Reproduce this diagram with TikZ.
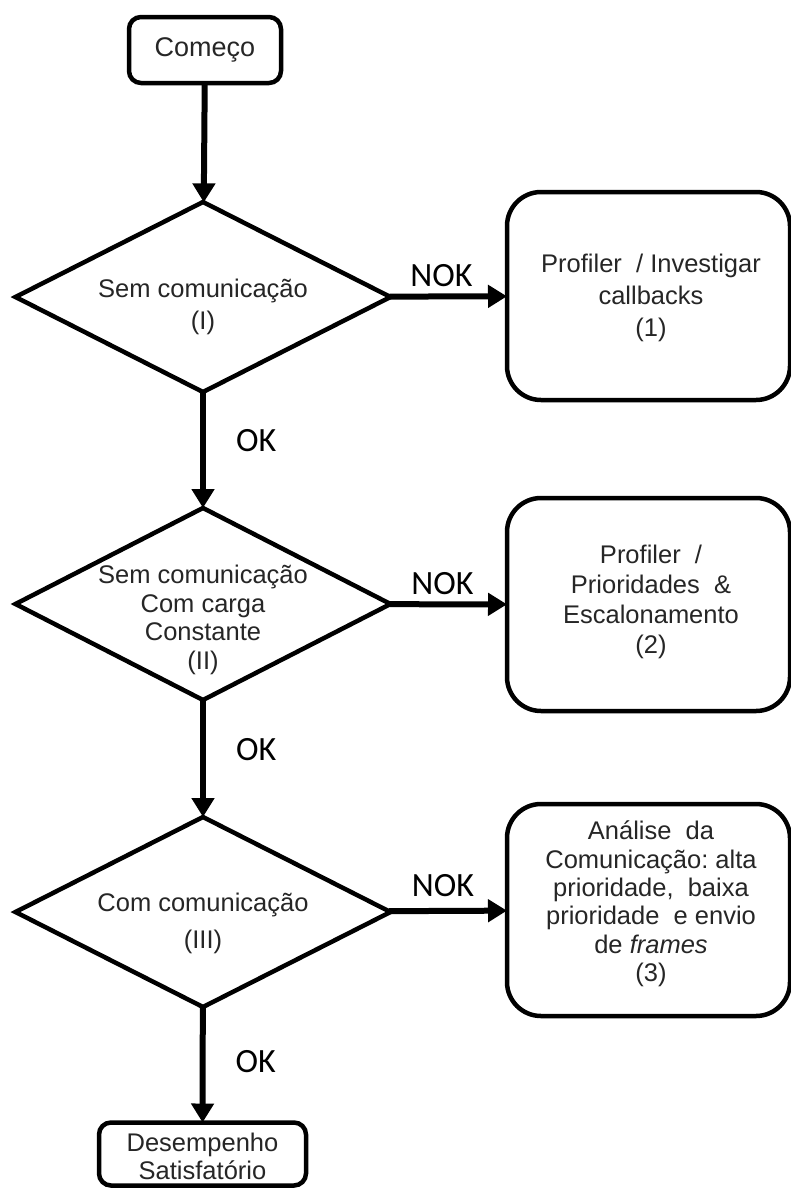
\documentclass[tikz,border=0pt]{standalone}
\usepackage{fontspec}
\setmainfont{Liberation Sans}
\newfontfamily\labelfont{Carlito}
\usetikzlibrary{shapes.geometric,arrows.meta}
\definecolor{textgray}{HTML}{262626}
\begin{document}
\begin{tikzpicture}[x=1pt,y=-1pt,
  every node/.style={inner sep=0pt,outer sep=0pt},
  border/.style={draw=black,line width=4.5pt,fill=white},
  termbox/.style={border,rectangle,rounded corners=12pt},
  actbox/.style={border,rectangle,rounded corners=34pt,minimum width=283pt,minimum height=208pt},
  decision/.style={border,diamond,minimum width=375pt,minimum height=190pt,line join=miter},
  txt/.style={align=center,text=textgray,font=\fontsize{25.5}{#1}\selectfont},
  txt/.default=30,
  flow/.style={line width=6pt,-{Triangle[width=22pt,length=19pt]}},
  ans/.style={font=\labelfont\fontsize{34}{34}\selectfont,text=black}
]
\useasboundingbox (0,0) rectangle (790,1189);

% start / end terminals
\node[termbox,minimum width=152pt,minimum height=66pt] (start) at (205,50) {};
\node[txt,font=\fontsize{27}{30}\selectfont] (startt) at (205,50) {Começo};

\node[termbox,minimum width=207pt,minimum height=63pt] (finish) at (202.5,1154) {};
\node[txt=28] (finisht) at (202.5,1156) {Desempenho\\Satisfatório};

% decisions
\node[decision] (d1) at (203,297) {};
\node[txt=32] (d1t) at (203,307) {Sem comunicação\\(I)};

\node[decision,minimum height=192pt] (d2) at (203,604) {};
\node[txt=28.5] (d2t) at (203,620) {Sem comunicação\\Com carga\\Constante\\(II)};

\node[decision] (d3) at (203,912) {};
\node[txt=37] (d3t) at (203,923) {Com comunicação\\(III)};

% actions
\node[actbox] (b1) at (648.5,296) {};
\node[txt=32] (b1t) at (651,298) {Profiler\ \ / Investigar\\callbacks\\(1)};

\node[actbox,minimum height=213pt] (b2) at (648.5,604.5) {};
\node[txt=30] (b2t) at (651,602) {Profiler\ \ /\\Prioridades\ \ \&\\Escalonamento\\(2)};

\node[actbox,minimum height=212pt] (b3) at (648.5,910) {};
\node[txt=28.4] (b3t) at (651,904) {Análise\ \ da\\Comunicação:\ alta\\prioridade,\ \ baixa\\prioridade\ \ e envio\\de \textit{frames}\\(3)};

% flow
\draw[flow] (start) -- (d1);
\draw[flow] (d1) -- node[ans,pos=0.42,anchor=west,xshift=33pt] {OK} (d2);
\draw[flow] (d2) -- node[ans,pos=0.42,anchor=west,xshift=33pt] {OK} (d3);
\draw[flow] (d3) -- node[ans,pos=0.47,anchor=west,xshift=33pt] {OK} (finish);

\draw[flow] (d1) -- node[ans,anchor=south,yshift=10pt,xshift=-7pt] {NOK} (b1);
\draw[flow] (d2) -- node[ans,anchor=south,yshift=10pt,xshift=-6pt] {NOK} (b2);
\draw[flow] (d3) -- node[ans,anchor=south,yshift=14pt,xshift=-5pt] {NOK} (b3);
\end{tikzpicture}
\end{document}
